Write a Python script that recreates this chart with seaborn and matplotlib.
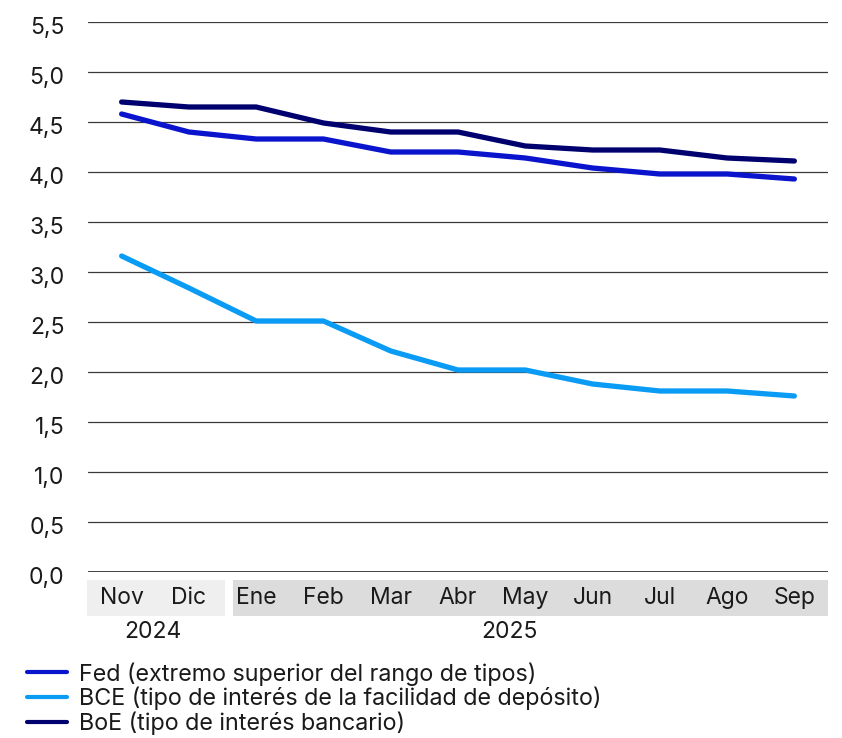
import matplotlib
matplotlib.use("Agg")
import matplotlib.pyplot as plt
from matplotlib.patches import Rectangle
from matplotlib.transforms import ScaledTranslation
import numpy as np
import pandas as pd
import seaborn as sns

# Month labels and year groups
months = ["Nov", "Dic", "Ene", "Feb", "Mar", "Abr", "May", "Jun", "Jul", "Ago", "Sep"]
years = ["2024", "2025"]

# Policy rates (%)
fed = [4.58, 4.40, 4.33, 4.33, 4.20, 4.20, 4.14, 4.04, 3.98, 3.98, 3.93]
bce = [3.16, 2.84, 2.51, 2.51, 2.21, 2.02, 2.02, 1.88, 1.81, 1.81, 1.76]
boe = [4.70, 4.65, 4.65, 4.49, 4.40, 4.40, 4.26, 4.22, 4.22, 4.14, 4.11]

series_names = [
    "Fed (extremo superior del rango de tipos)",
    "BCE (tipo de interés de la facilidad de depósito)",
    "BoE (tipo de interés bancario)",
]
series_colors = ["#0a14cc", "#0a9cf5", "#00006e"]

y_ticks = [0.0, 0.5, 1.0, 1.5, 2.0, 2.5, 3.0, 3.5, 4.0, 4.5, 5.0, 5.5]

df = pd.DataFrame({
    "x": list(range(len(months))) * 3,
    "valor": fed + bce + boe,
    "serie": [series_names[0]] * len(months)
    + [series_names[1]] * len(months)
    + [series_names[2]] * len(months),
})

sns.set_theme(style="white")
plt.rcParams["font.family"] = ["Inter", "DejaVu Sans"]

fig = plt.figure(figsize=(8.42, 7.38), dpi=100)
ax = fig.add_axes([88 / 842, 1 - 572 / 738, 740 / 842, 550 / 738])

sns.lineplot(
    data=df, x="x", y="valor", hue="serie", palette=series_colors,
    hue_order=series_names, linewidth=3.8, ax=ax, legend=False,
    solid_capstyle="round", solid_joinstyle="round",
)

fs = 16.5
ax.set_xlim(-0.5, len(months) - 0.5)
ax.set_ylim(0, 5.5)
ax.set_yticks(y_ticks)
ax.set_yticklabels([f"{v:.1f}".replace(".", ",") for v in y_ticks], fontsize=fs, color="#1a1a1a")
ax.set_xticks(range(len(months)))
ax.set_xticklabels(months, fontsize=fs, color="#1a1a1a")
ax.tick_params(axis="y", length=0, pad=17)
ax.tick_params(axis="x", length=0, pad=11)
ax.set_xlabel("")
ax.set_ylabel("")
for s in ax.spines.values():
    s.set_visible(False)

# value labels sit slightly below their gridline
shift = ScaledTranslation(0, -4 / 100, fig.dpi_scale_trans)
for lab in ax.get_yticklabels():
    lab.set_transform(lab.get_transform() + shift)

ax.yaxis.grid(True, color="#3a3a3a", linewidth=0.9)
ax.set_axisbelow(True)
ax.axhline(0, color="#111111", linewidth=1.8, zorder=1)

# Grey bands behind the month labels, one per year
trans = ax.get_xaxis_transform()
ax.add_patch(Rectangle((-0.515, -0.08), 2.05, 0.0655, transform=trans,
                       facecolor="#efefef", edgecolor="none", clip_on=False, zorder=0))
ax.add_patch(Rectangle((1.655, -0.08), 8.845, 0.0655, transform=trans,
                       facecolor="#dcdcdc", edgecolor="none", clip_on=False, zorder=0))

ax.text(0.47, -0.11, years[0], transform=trans, ha="center", va="center",
        fontsize=fs, color="#1a1a1a")
ax.text(5.77, -0.11, years[1], transform=trans, ha="center", va="center",
        fontsize=fs, color="#1a1a1a")

handles = [plt.Line2D([], [], color=c, linewidth=3.0) for c in series_colors]
fig.legend(handles, series_names, loc="upper left",
           bbox_to_anchor=(27 / 842, 1 - 662 / 738), frameon=False,
           fontsize=16.8, handlelength=1.72, handletextpad=0.5,
           labelspacing=0.06, borderaxespad=0, borderpad=0,
           labelcolor="#1a1a1a")

fig.savefig("out.png", dpi=100)
